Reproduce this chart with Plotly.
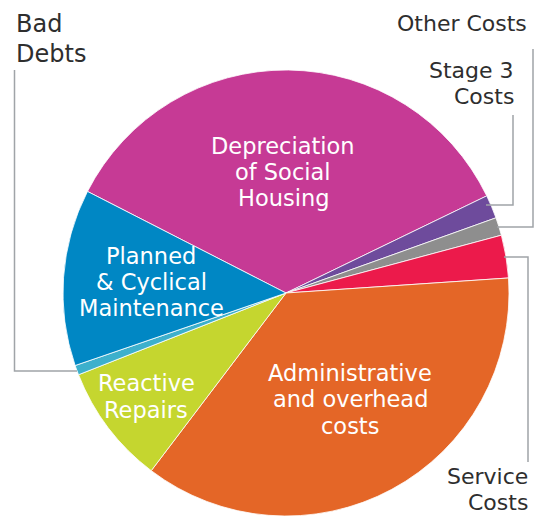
import plotly.graph_objects as go

labels = ["Depreciation of Social Housing", "Stage 3 Costs", "Other Costs", "Service Costs",
          "Administrative and overhead costs", "Reactive Repairs", "Bad Debts",
          "Planned & Cyclical Maintenance"]
values = [35.3, 1.7, 1.3, 3.1, 36.4, 8.7, 0.7, 12.8]
colors = ["#C63A95", "#6E4B9C", "#8E8E8E", "#EC1A4B", "#E46627", "#C5D62F", "#3DB0CC", "#0087C4"]

W, H = 534, 516
fig = go.Figure(go.Pie(
    labels=labels, values=values, sort=False, direction="clockwise", rotation=-62.9,
    marker=dict(colors=colors, line=dict(color="white", width=0.8)),
    textinfo="none", hoverinfo="label+percent", showlegend=False,
    domain=dict(x=[63 / W, 509 / W], y=[0, 446 / H]),
))

FONT = "DejaVu Sans"
DARK = "#2E2E2E"

def ann(lines, x, ys, xanchor="center", color="white", size=22.5):
    for text, y in zip(lines, ys):
        fig.add_annotation(text=text, x=x / W, y=1 - y / H, xref="paper", yref="paper",
                           xanchor=xanchor, yanchor="middle", showarrow=False,
                           font=dict(family=FONT, size=size, color=color))

ann(["Depreciation", "of Social", "Housing"], 283, [146, 172, 198])
ann(["Planned", "& Cyclical", "Maintenance"], 151, [256, 282, 308])
ann(["Administrative", "and overhead", "costs"], 350, [373, 399, 426])
ann(["Reactive", "Repairs"], 146, [383, 410])
ann(["Bad", "Debts"], 14, [24, 54], "left", DARK, 24)
ann(["Other Costs"], 529, [24], "right", DARK, 22)
ann(["Stage 3", "Costs"], 516, [70, 96], "right", DARK, 22)
ann(["Service", "Costs"], 530, [476, 502], "right", DARK, 22)

LC = "#A0A4A8"
def poly(pts):
    path = "M " + " L ".join(f"{x / W},{1 - y / H}" for x, y in pts)
    fig.add_shape(type="path", path=path, xref="paper", yref="paper",
                  line=dict(color=LC, width=1.5))

poly([(14.5, 70), (14.5, 371), (77, 371)])
poly([(513, 115), (513, 205), (486, 205)])
poly([(533, 49), (533, 227), (497, 227)])
poly([(528, 462), (528, 257), (504, 257)])

fig.update_layout(width=W, height=H, margin=dict(l=0, r=0, t=0, b=0),
                  paper_bgcolor="white", plot_bgcolor="white")
fig.write_html("out.html", config={"displayModeBar": False},
               post_script="document.body.style.margin='0';")
